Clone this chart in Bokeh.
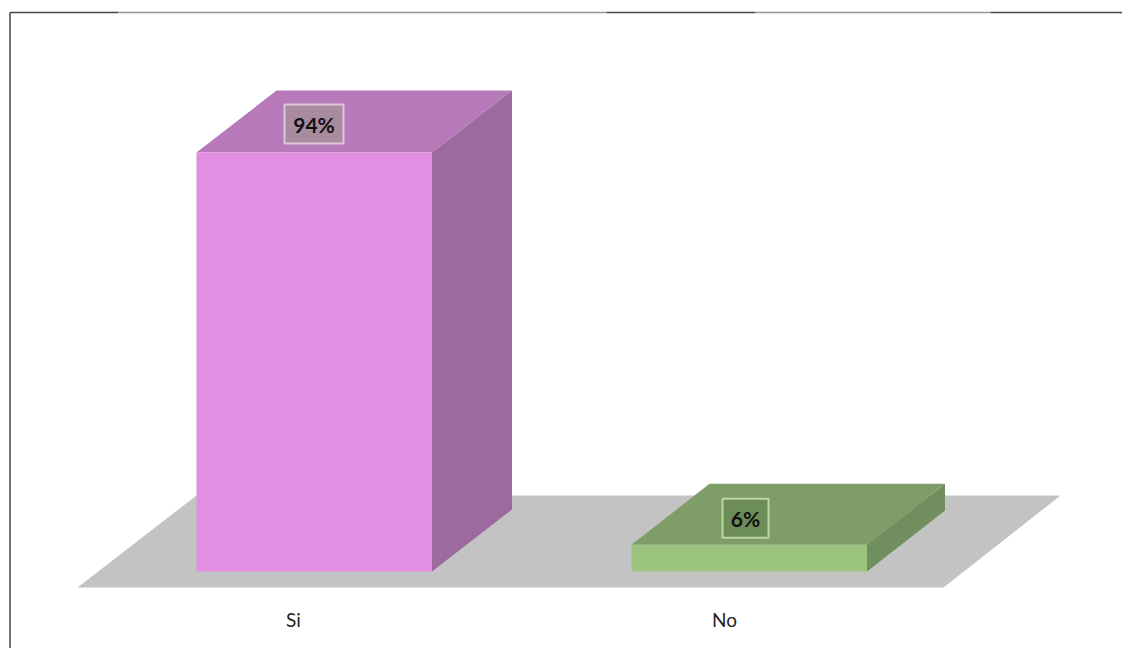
from bokeh.core.properties import value
from bokeh.embed import file_html
from bokeh.models import Range1d
from bokeh.plotting import figure
from bokeh.resources import INLINE

categories = ["Si", "No"]
percent = [94, 6]
labels = ["94%", "6%"]
front_colors = ["#E28FE3", "#9BC47E"]
top_colors = ["#B779BA", "#7F9E67"]
side_colors = ["#9C6A9E", "#718F5E"]
label_fills = ["#A98B9F", "#6C8C58"]
label_borders = ["#DCC8D8", "#B9D8A2"]

W, H = 1122, 648
PX_PER_PCT = 4.457
BASE = 571            # baseline pixel within the figure
to_val = lambda py: (BASE - py) / PX_PER_PCT
depth_x = [80, 78]
depth_y = [62 / PX_PER_PCT, 61 / PX_PER_PCT]
lefts = [196, 631]
BAR_W = 235.5
tick_x = [293, 724]
box_x = [(284, 343), (722, 768)]
box_h_px = 39
box_rise_px = [9, 7]
frame_y = to_val(12)

p = figure(width=W, height=H, output_backend="svg", toolbar_location=None,
           x_range=Range1d(0, W), y_range=Range1d(to_val(H), to_val(0)),
           min_border=0, outline_line_color=None, background_fill_color="white",
           border_fill_color="white")
p.axis.visible = False
p.grid.visible = False

# page frame
p.line([9.5, 9.5], [to_val(H), frame_y], line_color="#444444", line_width=1.5)
for x0, x1, c in [(9.5, 118, "#444444"), (118, 606, "#999999"), (606, 755, "#444444"),
                  (755, 990, "#999999"), (990, W, "#444444")]:
    p.line([x0, x1], [frame_y, frame_y], line_color=c, line_width=1.5)

# floor
p.patch([77, 943, 1060, 196],
        [to_val(587), to_val(587), to_val(495), to_val(495)],
        fill_color="#C3C3C3", line_color=None)

for i, v in enumerate(percent):
    l, r = lefts[i], lefts[i] + BAR_W
    dx, dy = depth_x[i], depth_y[i]
    p.patch([l, r, r + dx, l + dx], [v, v, v + dy, v + dy],
            fill_color=top_colors[i], line_color=None)
    p.patch([r, r + dx, r + dx, r], [0, dy, v + dy, v],
            fill_color=side_colors[i], line_color=None)
    p.quad(left=[l], right=[r], bottom=[0], top=[v],
           fill_color=front_colors[i], line_color=None)
    x0, x1 = box_x[i]
    y0 = v + box_rise_px[i] / PX_PER_PCT
    y1 = y0 + box_h_px / PX_PER_PCT
    p.quad(left=[x0], right=[x1], bottom=[y0], top=[y1],
           fill_color=label_fills[i], line_color=label_borders[i], line_width=2)
    p.text([(x0 + x1) / 2], [(y0 + y1) / 2], text=[labels[i]],
           text_font=value("Lato"), text_font_size="21px", text_font_style="bold",
           text_color="#111111", text_align="center", text_baseline="middle")
    p.text([tick_x[i]], [to_val(619)], text=[categories[i]],
           text_font=value("Lato"), text_font_size="19px",
           text_color="#222222", text_align="center", text_baseline="middle")

open("out.html", "w").write(file_html(p, INLINE))
